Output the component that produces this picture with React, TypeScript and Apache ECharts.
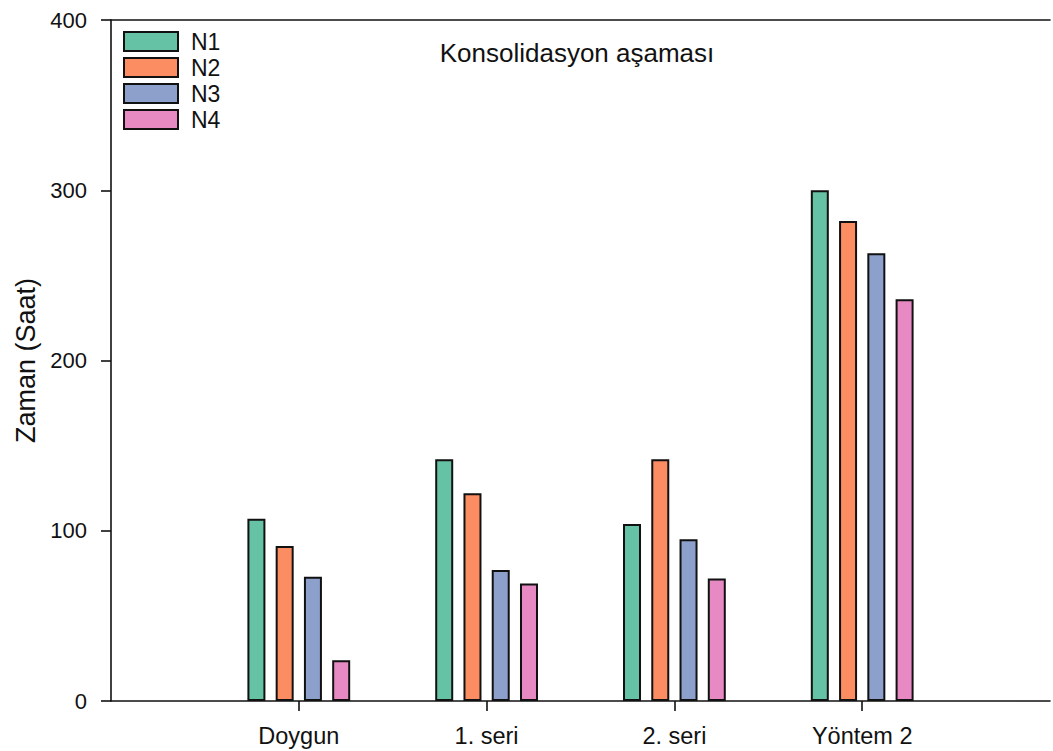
import React, { useEffect, useRef } from "react";
import * as echarts from "echarts";

const categories = ["Doygun", "1. seri", "2. seri", "Yöntem 2"];
const seriesNames = ["N1", "N2", "N3", "N4"];
const n1 = [107, 142, 104, 300];
const n2 = [91, 122, 142, 282];
const n3 = [73, 77, 95, 263];
const n4 = [24, 69, 72, 236];
const colors = ["#66c2a5", "#fc8d62", "#8da0cb", "#e78ac3"];
const yTicks = [0, 100, 200, 300, 400];

const FONT = "'Liberation Sans', Arial, Helvetica, sans-serif";

export default function App() {
  const ref = useRef<HTMLDivElement>(null);
  useEffect(() => {
    if (!ref.current) return;
    const chart = echarts.init(ref.current, null, { renderer: "svg" });
    const axisData = ["", ...categories, ""];
    const values = [n1, n2, n3, n4];
    const lineStyle = { color: "#111", width: 1.6 };
    chart.setOption({
      animation: false,
      backgroundColor: "#fff",
      textStyle: { fontFamily: FONT },
      title: {
        text: "Konsolidasyon aşaması",
        left: 577,
        textAlign: "center",
        top: 40,
        padding: 0,
        textStyle: { fontFamily: FONT, fontSize: 26, fontWeight: "normal", color: "#111" },
      },
      legend: {
        orient: "vertical",
        left: 123,
        top: 30,
        padding: 0,
        itemWidth: 54,
        itemHeight: 19,
        itemGap: 3,
        icon: "rect",
        data: seriesNames,
        itemStyle: { borderColor: "#111", borderWidth: 2 },
        textStyle: { fontFamily: FONT, fontSize: 23, color: "#111", padding: [0, 0, 0, 8] },
      },
      grid: { left: 111, top: 20, bottom: 50, right: -4, containLabel: false },
      xAxis: [
        {
          type: "category",
          data: axisData,
          boundaryGap: false,
          position: "bottom",
          axisLine: { lineStyle },
          axisTick: {
            length: 10,
            lineStyle,
            interval: (i: number) => i > 0 && i < axisData.length - 1,
          },
          axisLabel: { interval: 0, margin: 23, fontFamily: FONT, fontSize: 23.5, color: "#111" },
          splitLine: { show: false },
        },
        {
          type: "category",
          data: axisData,
          boundaryGap: false,
          position: "top",
          axisLine: { lineStyle },
          axisTick: { show: false },
          axisLabel: { show: false },
          splitLine: { show: false },
        },
      ],
      yAxis: {
        type: "value",
        min: yTicks[0],
        max: yTicks[yTicks.length - 1],
        interval: 100,
        name: "Zaman (Saat)",
        nameLocation: "middle",
        nameGap: 72,
        nameTextStyle: { fontFamily: FONT, fontSize: 27, color: "#111" },
        axisLine: { show: true, lineStyle },
        axisTick: { show: true, length: 10, lineStyle },
        axisLabel: { margin: 24, fontFamily: FONT, fontSize: 22, color: "#111" },
        splitLine: { show: false },
      },
      series: seriesNames.map((name, i) => ({
        name,
        type: "bar",
        xAxisIndex: 0,
        data: [null, ...values[i], null],
        barWidth: 18,
        barGap: "57%",
        itemStyle: { color: colors[i], borderColor: "#111", borderWidth: 2 },
      })),
    });
    return () => chart.dispose();
  }, []);
  return (
    <div
      ref={ref}
      style={{ position: "absolute", left: 0, top: 0, width: 1053, height: 751 }}
    />
  );
}
